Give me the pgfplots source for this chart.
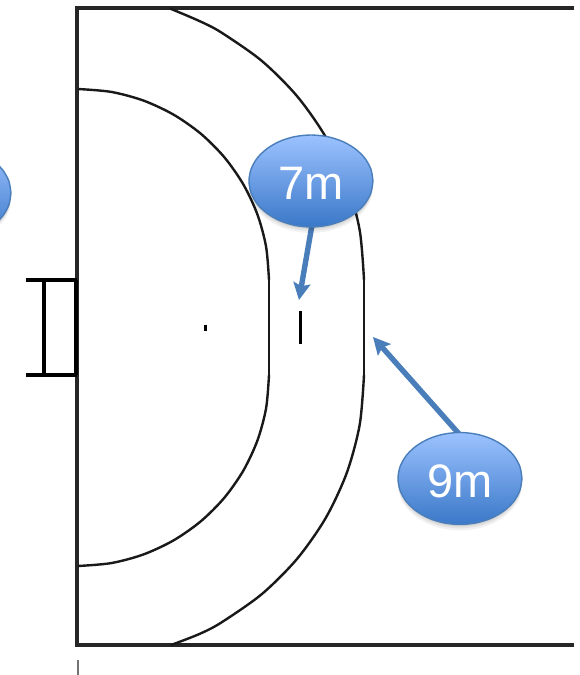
\documentclass[border=0pt]{standalone}
\usepackage{fontspec}
\setmainfont{Liberation Sans}
\usepackage{pgfplots}
\usepackage{pgfplotstable}
\pgfplotsset{compat=1.18}
\usetikzlibrary{arrows.meta}

\definecolor{bubtop}{RGB}{156,194,255}
\definecolor{bubbot}{RGB}{58,120,200}
\definecolor{bubedge}{RGB}{74,126,187}

% bubble outline, offsets from its centre in pixels
\pgfplotstableread{
x y
62 0
59.9 11.9
53.7 23
43.8 32.5
31 39.8
16.1 44.4
0 46
-16.1 44.4
-31 39.8
-43.8 32.5
-53.7 23
-59.9 11.9
-62 0
-59.9 -11.9
-53.7 -23
-43.8 -32.5
-31 -39.8
-16.1 -44.4
0 -46
16.1 -44.4
31 -39.8
43.8 -32.5
53.7 -23
59.9 -11.9
62 0
}\bubbletable

\newcommand{\bubble}[2]{%
  \addplot[draw=none, fill=black, fill opacity=0.05, smooth] table[x expr=\thisrow{x}+#1, y expr=\thisrow{y}+#2+6] {\bubbletable} --cycle;
  \addplot[draw=none, fill=black, fill opacity=0.06, smooth] table[x expr=\thisrow{x}+#1, y expr=\thisrow{y}+#2+4] {\bubbletable} --cycle;
  \addplot[draw=none, fill=black, fill opacity=0.08, smooth] table[x expr=\thisrow{x}+#1, y expr=\thisrow{y}+#2+2] {\bubbletable} --cycle;
  \addplot[draw=bubedge, line width=1.4pt, top color=bubtop, bottom color=bubbot, smooth] table[x expr=\thisrow{x}+#1, y expr=\thisrow{y}+#2] {\bubbletable} --cycle;
}

\begin{document}
\begin{tikzpicture}
\begin{axis}[
    width=580pt, height=675pt,
    scale only axis,
    xmin=0, xmax=580,
    ymin=0, ymax=675,
    y dir=reverse,
    hide axis,
    clip=true,
]
    % keeps the whole frame in the bounding box
    \addplot[white, line width=0.1pt, mark=none] coordinates {(0,0) (580,0) (580,675) (0,675) (0,0)};

    % court
    \addplot[black!85, line width=3.2pt, mark=none] coordinates {(574,8) (77,8) (77,645) (574,645)};

    % 6m line
    \addplot[black!90, line width=2.4pt, smooth, mark=none] coordinates {
        (78,89) (111.2,91.9) (143.3,100.5) (173.5,114.6) (200.8,133.7) (224.3,157.2)
        (243.4,184.5) (257.5,214.7) (266.1,246.8) (269,280)};
    \addplot[black!90, line width=2.4pt, mark=none] coordinates {(269,280) (269,375)};
    \addplot[black!90, line width=2.4pt, smooth, mark=none] coordinates {
        (269,375) (266.1,408.2) (257.5,440.3) (243.4,470.5) (224.3,497.8) (200.8,521.3)
        (173.5,540.4) (143.3,554.5) (111.2,563.1) (78,566)};

    % 9m line
    \addplot[black!90, line width=2.4pt, smooth, mark=none] coordinates {
        (170,8.5) (198.9,20.8) (221,32.3) (261.8,60.9) (297.1,96.2) (325.7,137) (346.8,182.2)
        (359.7,230.3) (364,280)};
    \addplot[black!90, line width=2.4pt, mark=none] coordinates {(364,280) (364,375)};
    \addplot[black!90, line width=2.4pt, smooth, mark=none] coordinates {
        (364,375) (359.7,424.7) (346.8,472.8) (325.7,518) (297.1,558.8) (261.8,594.1)
        (221,622.7) (198.9,634.2) (171,645)};

    % goal
    \addplot[black, line width=3.8pt, mark=none] coordinates {(26,280) (77,280)};
    \addplot[black, line width=3.8pt, mark=none] coordinates {(26,375) (77,375)};
    \addplot[black, line width=3.8pt, mark=none] coordinates {(76,280) (76,375)};
    \addplot[black, line width=3.2pt, mark=none] coordinates {(44,280) (44,375)};

    % marks
    \addplot[black, line width=3pt, mark=none] coordinates {(300,311) (300,344)};
    \addplot[black, line width=3pt, mark=none] coordinates {(205,324.5) (205,330.5)};
    \addplot[black!55, line width=1.6pt, mark=none] coordinates {(78,660) (78,675)};

    % arrows
    \addplot[bubedge, line width=5.4pt, mark=none, -{Stealth[length=17pt,width=17pt,inset=3pt]}] coordinates {(312.5,222) (299,300)};
    \addplot[bubedge, line width=5.4pt, mark=none, -{Stealth[length=17pt,width=17pt,inset=3pt]}] coordinates {(460,435) (373,337)};

    % bubbles
    \bubble{-51}{193}
    \bubble{311}{181}
    \bubble{460}{478.5}

    \node[white, font=\fontsize{47}{47}\selectfont, inner sep=0pt] at (axis cs:311,183) {7m};
    \node[white, font=\fontsize{47}{47}\selectfont, inner sep=0pt] at (axis cs:460,481) {9m};
\end{axis}
\end{tikzpicture}
\end{document}
